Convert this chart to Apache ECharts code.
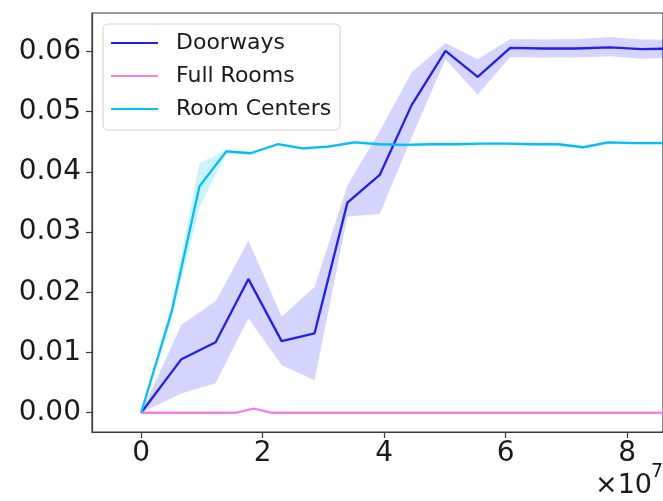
<!DOCTYPE html>
<html>
<head>
<meta charset="utf-8">
<script src="https://cdn.jsdelivr.net/npm/echarts@6/dist/echarts.min.js"></script>
<style>
  html, body { margin: 0; padding: 0; background: #ffffff; }
  #chart { width: 663px; height: 501px; }
</style>
</head>
<body>
<div id="chart"></div>
<script>
// Training steps are given in units of 1e7.
const doorSteps = [0, 0.663, 1.226, 1.767, 2.313, 2.855, 3.396, 3.928, 4.453, 5.011, 5.541, 6.077, 6.62, 7.16, 7.72, 8.24, 8.78];
const doorMean  = [0, 0.0089, 0.0117, 0.0222, 0.0119, 0.0132, 0.0349, 0.0395, 0.0511, 0.0601, 0.0558, 0.0606, 0.0605, 0.0605, 0.0607, 0.0604, 0.0605];
const doorLow   = [0, 0.0032, 0.0049, 0.0157, 0.0079, 0.0054, 0.0326, 0.0330, 0.0457, 0.0587, 0.0528, 0.0591, 0.0590, 0.0590, 0.0592, 0.0588, 0.0590];
const doorHigh  = [0, 0.0146, 0.0185, 0.0286, 0.0160, 0.0209, 0.0378, 0.0468, 0.0565, 0.0614, 0.0587, 0.0621, 0.0620, 0.0621, 0.0624, 0.0620, 0.0620];

const fullSteps = [0, 1.565, 1.854, 2.14, 8.95];
const fullMean  = [0, 0, 0.0007, 0, 0];

const centerSteps = [0, 0.50, 0.96, 1.40, 1.80, 2.25, 2.66, 3.08, 3.51, 3.93, 4.35, 4.77, 5.19, 5.61, 6.03, 6.45, 6.86, 7.28, 7.69, 8.11, 8.53, 8.95];
const centerMean  = [0, 0.0167, 0.0376, 0.0434, 0.0431, 0.0446, 0.0439, 0.0442, 0.0449, 0.0446, 0.0445, 0.0446, 0.0446, 0.0447, 0.0447, 0.0446, 0.0446, 0.0441, 0.0449, 0.0448, 0.0448, 0.0448];
const centerLow   = [0, 0.0155, 0.0341, 0.0430, 0.0429, 0.0444, 0.0437, 0.0440, 0.0447, 0.0444, 0.0443, 0.0444, 0.0444, 0.0445, 0.0445, 0.0444, 0.0444, 0.0439, 0.0447, 0.0446, 0.0446, 0.0446];
const centerHigh  = [0, 0.0178, 0.0414, 0.0437, 0.0433, 0.0448, 0.0441, 0.0444, 0.0451, 0.0448, 0.0447, 0.0448, 0.0448, 0.0449, 0.0449, 0.0448, 0.0448, 0.0443, 0.0451, 0.0450, 0.0450, 0.0450];

const xTicks = [0, 2, 4, 6, 8];
const yTicks = [0, 0.01, 0.02, 0.03, 0.04, 0.05, 0.06];

const FONT = 'DejaVu Sans';
const TEXT = '#1a1a1a';
const SPINE = '#3a3a3a';

function pairs(xs, ys) { return xs.map((x, i) => [x, ys[i]]); }

function lineSeries(name, xs, ys, color, z) {
  return {
    type: 'line', name, data: pairs(xs, ys), z,
    color, showSymbol: false, symbol: 'none',
    lineStyle: { color, width: 2.3 },
    clip: true, animation: false
  };
}

// Shaded spread between lower and upper curves, drawn as one polygon.
function bandSeries(name, xs, lo, hi, fill, z) {
  return {
    type: 'custom', name, z, silent: true, clip: true, animation: false,
    data: xs.map((x, i) => [x, lo[i], hi[i]]),
    encode: { x: 0, y: [1, 2] },
    renderItem(params, api) {
      if (params.dataIndex !== 0) return;
      const pts = [];
      for (let i = 0; i < xs.length; i++) pts.push(api.coord([xs[i], hi[i]]));
      for (let i = xs.length - 1; i >= 0; i--) pts.push(api.coord([xs[i], lo[i]]));
      return { type: 'polygon', shape: { points: pts }, style: { fill, stroke: null } };
    }
  };
}

const chart = echarts.init(document.getElementById('chart'), null, { renderer: 'canvas' });

chart.setOption({
  animation: false,
  backgroundColor: '#ffffff',
  textStyle: { fontFamily: FONT },
  grid: {
    left: 92, top: 13, right: -2, bottom: 69,
    show: true, borderColor: SPINE, borderWidth: 1.2, backgroundColor: 'transparent'
  },
  xAxis: {
    type: 'value', min: -0.809, max: 8.592,
    splitLine: { show: false },
    axisLine: { show: true, onZero: false, lineStyle: { color: SPINE, width: 1.2 } },
    axisTick: { show: true, length: 6, customValues: xTicks, lineStyle: { color: SPINE, width: 1.2 } },
    axisLabel: {
      customValues: xTicks, margin: 8,
      fontFamily: FONT, fontSize: 28, color: TEXT,
      formatter: v => String(Math.round(v))
    }
  },
  yAxis: {
    type: 'value', min: -0.0032, max: 0.0664,
    splitLine: { show: false },
    axisLine: { show: true, onZero: false, lineStyle: { color: SPINE, width: 1.2 } },
    axisTick: { show: true, length: 6, customValues: yTicks, lineStyle: { color: SPINE, width: 1.2 } },
    axisLabel: {
      customValues: yTicks, margin: 11,
      fontFamily: FONT, fontSize: 28, color: TEXT,
      formatter: v => v.toFixed(2)
    }
  },
  legend: {
    data: ['Doorways', 'Full Rooms', 'Room Centers'],
    orient: 'vertical', left: 103, top: 24,
    icon: 'rect', itemWidth: 47, itemHeight: 2.2, itemGap: 7,
    padding: [6, 9, 8, 8],
    borderColor: '#d0d0d0', borderWidth: 1, borderRadius: 5,
    backgroundColor: 'rgba(255,255,255,0.85)',
    selectedMode: false,
    textStyle: { fontFamily: FONT, fontSize: 22, lineHeight: 26, color: TEXT, padding: [0, 0, 0, 13] },
    z: 20
  },
  series: [
    lineSeries('Doorways', doorSteps, doorMean, '#1f1ff2', 3),
    bandSeries('Doorways spread', doorSteps, doorLow, doorHigh, 'rgba(0,0,255,0.17)', 2),
    lineSeries('Full Rooms', fullSteps, fullMean, '#ee82ee', 5),
    lineSeries('Room Centers', centerSteps, centerMean, '#00bfff', 7),
    bandSeries('Room Centers spread', centerSteps, centerLow, centerHigh, 'rgba(0,191,255,0.2)', 6)
  ],
  graphic: [
    {
      type: 'text', right: 11, bottom: 2, z: 30,
      style: { text: '×10', fontFamily: FONT, fontSize: 27, fill: TEXT }
    },
    {
      type: 'text', right: 0, bottom: 19, z: 30,
      style: { text: '7', fontFamily: FONT, fontSize: 19, fill: TEXT }
    }
  ]
});
</script>
</body>
</html>
